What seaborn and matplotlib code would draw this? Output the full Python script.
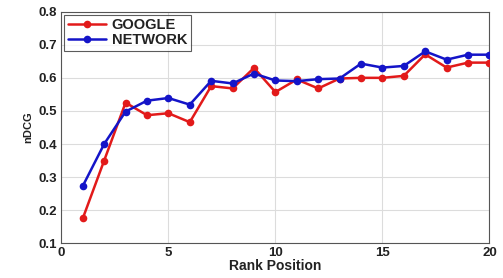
import matplotlib
matplotlib.use("Agg")
import matplotlib.pyplot as plt
import seaborn as sns
import pandas as pd

rank = list(range(1, 21))
google = [0.175, 0.350, 0.525, 0.487, 0.493, 0.466, 0.575, 0.568, 0.630, 0.557,
          0.595, 0.568, 0.598, 0.600, 0.600, 0.606, 0.671, 0.631, 0.646, 0.646]
network = [0.273, 0.400, 0.498, 0.531, 0.539, 0.519, 0.591, 0.583, 0.613, 0.592,
           0.590, 0.596, 0.598, 0.643, 0.631, 0.636, 0.680, 0.655, 0.670, 0.670]

df = pd.DataFrame({
    "Rank Position": rank * 2,
    "nDCG": google + network,
    "source": ["GOOGLE"] * 20 + ["NETWORK"] * 20,
})

sns.set_theme(style="whitegrid")
plt.rcParams["font.family"] = ["Liberation Sans", "DejaVu Sans"]

fig = plt.figure(figsize=(5.03, 2.78), dpi=100)
ax = fig.add_axes([0.122, 0.125, 0.851, 0.833])

sns.lineplot(data=df, x="Rank Position", y="nDCG", hue="source",
             palette={"GOOGLE": "#e21a1a", "NETWORK": "#1414c8"},
             marker="o", markersize=5.5, markeredgewidth=0, linewidth=1.8,
             ax=ax, zorder=3)

ax.set_xlim(0, 20)
ax.set_ylim(0.1, 0.8)
ax.set_xticks([0, 5, 10, 15, 20])
ax.set_yticks([0.1, 0.2, 0.3, 0.4, 0.5, 0.6, 0.7, 0.8])
ax.grid(True, color="#dcdcdc", linewidth=0.8)
for s in ax.spines.values():
    s.set_color("#555555")
    s.set_linewidth(0.8)
ax.tick_params(direction="in", length=3, width=0.6, colors="#555555",
               labelcolor="#222222", labelsize=9.5, pad=3)
for lbl in ax.get_xticklabels() + ax.get_yticklabels():
    lbl.set_fontweight("bold")
ax.set_xlabel("Rank Position", fontsize=10, fontweight="bold", color="#222222", labelpad=0)
ax.set_ylabel("nDCG", fontsize=8, fontweight="bold", color="#222222", labelpad=4)

leg = ax.legend(loc="upper left", borderaxespad=0.2, frameon=True, fontsize=10.5,
                handlelength=2.6, handletextpad=0.4, borderpad=0.25, labelspacing=0.05,
                fancybox=False)
leg.get_frame().set_edgecolor("#333333")
leg.get_frame().set_linewidth(0.8)
for t in leg.get_texts():
    t.set_fontweight("bold")
    t.set_color("#222222")

fig.patch.set_facecolor("white")
fig.savefig("out.png", dpi=100)
